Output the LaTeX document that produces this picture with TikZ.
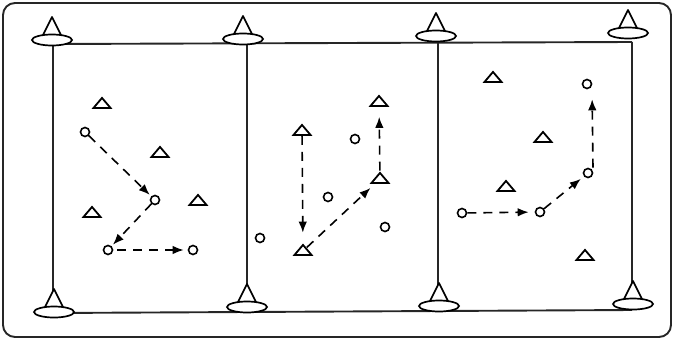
\documentclass[tikz,border=0pt]{standalone}
\usetikzlibrary{shapes.geometric,arrows.meta}
\begin{document}
\begin{tikzpicture}[x=1pt,y=-1pt,
  gridline/.style={line width=1.9pt, draw=black!85},
  disc/.style={ellipse, draw, fill=white, line width=1.7pt, minimum width=40pt, minimum height=11pt, inner sep=0pt},
  conetri/.style={draw, fill=white, line width=1.7pt, line join=round},
  pl/.style={circle, draw, line width=1.6pt, minimum size=9pt, inner sep=0pt},
  tri/.style={isosceles triangle, isosceles triangle stretches, shape border rotate=90, draw, line width=1.8pt, minimum width=17pt, minimum height=10pt, inner sep=0pt},
  mv/.style={line width=1.6pt, dash pattern=on 9pt off 7pt, -{Latex[length=11pt,width=8.5pt]}, shorten >=2pt}]
\useasboundingbox (0,0) rectangle (674,340);
\draw[line width=1.9pt, draw=black!85, rounded corners=12pt] (3,3) rectangle (671,337);
% grid
\coordinate (tl) at (53,44);  \coordinate (tr) at (632,42);
\coordinate (bl) at (53,313); \coordinate (br) at (632,310);
\coordinate (v2t) at (247,43); \coordinate (v2b) at (247,312);
\coordinate (v3t) at (438,42); \coordinate (v3b) at (438,311);
\draw[gridline] (tl) -- (tr);
\draw[gridline] (bl) -- (br);
\draw[gridline] (tl) -- (bl);
\draw[gridline] (v2t) -- (v2b);
\draw[gridline] (v3t) -- (v3b);
\draw[gridline] (tr) -- (br);
% cones
\newcommand\mycone[3]{%
  \draw[conetri] (#2-10,#3-3) -- (#2,#3-23) -- (#2+10,#3-3) -- cycle;
  \node[disc] (#1) at (#2,#3) {};}
\mycone{ct1}{52}{40}
\mycone{ct2}{243}{39}
\mycone{ct3}{436}{36}
\mycone{ct4}{628}{33}
\mycone{cb1}{54}{312}
\mycone{cb2}{247}{307}
\mycone{cb3}{439}{306}
\mycone{cb4}{633}{304}
% panel 1
\node[tri] (a1) at (102,104) {};
\node[tri] (a2) at (160,153) {};
\node[tri] (a3) at (198,201) {};
\node[tri] (a4) at (92,213) {};
\node[pl] (o1) at (85,132) {};
\node[pl] (o2) at (155,200) {};
\node[pl] (o3) at (108,250) {};
\node[pl] (o4) at (193,250) {};
\draw[mv] (o1) -- (o2);
\draw[mv] (o2) -- (o3);
\draw[mv, shorten <=4pt, shorten >=4pt] (o3.east) -- (o4.west);
% panel 2
\node[tri] (b1) at (302,131) {};
\node[tri] (b2) at (303,251) {};
\node[tri] (b3) at (380,179) {};
\node[tri] (b4) at (379,102) {};
\node[pl] (p1) at (355,139) {};
\node[pl] (p2) at (328,197) {};
\node[pl] (p3) at (385,227) {};
\node[pl] (p4) at (260,238) {};
\draw[mv, shorten >=10pt] (b1) -- (b2);
\draw[mv, shorten >=6pt] (b2) -- (b3);
\draw[mv, shorten >=10pt] (b3) -- (b4);
% panel 3
\node[tri] (d1) at (493,78) {};
\node[tri] (d2) at (543,138) {};
\node[tri] (d3) at (506,187) {};
\node[tri] (d4) at (585,256) {};
\node[pl] (q1) at (587,84) {};
\node[pl] (q2) at (588,173) {};
\node[pl] (q3) at (462,213) {};
\node[pl] (q4) at (540,212) {};
\draw[mv, shorten >=6pt] (q3) -- (q4);
\draw[mv, shorten >=4pt] (q4) -- (q2);
\draw[mv, shorten >=10pt] ([xshift=5pt]q2.north) -- ([xshift=5pt]q1.south);
\end{tikzpicture}
\end{document}
